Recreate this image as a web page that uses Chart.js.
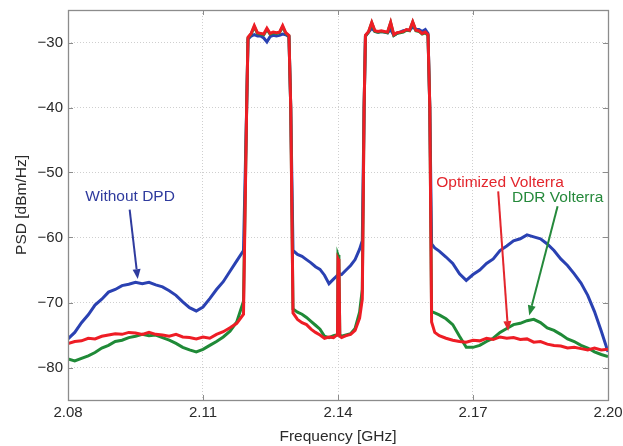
<!DOCTYPE html>
<html>
<head>
<meta charset="utf-8">
<title>PSD</title>
<script src="https://cdn.jsdelivr.net/npm/chart.js@4.4.1/dist/chart.umd.min.js"></script>
<style>
  html, body { margin: 0; padding: 0; background: #fff; }
</style>
</head>
<body>
<canvas id="psdChart" width="623" height="446"></canvas>
<script>
// frequency grid shared by all three spectra (GHz)
const freqGHz = [
  // lower adjacent channel
  2.0800, 2.0815, 2.0830, 2.0845, 2.0860, 2.0875, 2.0890, 2.0905, 2.0920, 2.0935,
  2.0950, 2.0965, 2.0980, 2.0995, 2.1010, 2.1025, 2.1040, 2.1055, 2.1070, 2.1085,
  2.1100, 2.1115, 2.1130, 2.1145, 2.1160, 2.1175, 2.1190,
  2.1197,
  // carrier 1
  2.1200, 2.1207, 2.1214, 2.1221, 2.1228, 2.1235, 2.1242, 2.1249, 2.1256, 2.1263,
  2.1270, 2.1277, 2.1284, 2.1291,
  2.1295,
  // gap between carriers, with the tone at 2.14
  2.1300, 2.1310, 2.1320, 2.1330, 2.1340, 2.1350, 2.1360, 2.1370, 2.1380, 2.1390, 2.1396,
  2.1399, 2.1400, 2.1402, 2.1404,
  2.1408, 2.1418, 2.1428, 2.1438, 2.1448, 2.1454,
  2.1458,
  // carrier 2
  2.1461, 2.1468, 2.1475, 2.1482, 2.1489, 2.1496, 2.1503, 2.1510, 2.1517, 2.1524, 2.1531,
  2.1538, 2.1545, 2.1552, 2.1559, 2.1566, 2.1573, 2.1580, 2.1587, 2.1594, 2.1600,
  2.1604,
  // upper adjacent channel
  2.1608, 2.1615, 2.1625, 2.1640, 2.1655, 2.1670, 2.1685, 2.1700, 2.1715, 2.1730,
  2.1745, 2.1760, 2.1775, 2.1790, 2.1805, 2.1820, 2.1835, 2.1850, 2.1865, 2.1880,
  2.1895, 2.1910, 2.1925, 2.1940, 2.1955, 2.1970, 2.1985, 2.2000
];

// PSD in dBm/Hz, same order as freqGHz
const withoutDpd = [
  -75.6, -74.6, -73.1, -71.9, -70.4, -69.5, -68.4, -68.0, -67.4, -67.2,
  -66.9, -67.1, -66.9, -67.3, -67.6, -68.2, -68.9, -69.9, -70.8, -71.3,
  -70.7, -69.4, -68.0, -66.8, -65.2, -63.6, -62.0,
  -40,
  -29.5, -29.0, -28.8, -29.0, -29.0, -29.3, -29.9, -29.1, -28.9, -29.0,
  -28.9, -28.7, -28.8, -29.1,
  -40,
  -62.0, -62.6, -62.9, -63.4, -63.9, -64.5, -64.9, -65.8, -67.1, -66.4, -66.0,
  -65.8, -65.7, -65.6, -65.6,
  -65.7, -65.0, -64.3, -63.4, -61.8, -60.5,
  -40,
  -29.0, -28.4, -27.8, -28.3, -28.4, -28.3, -28.4, -28.5, -28.0, -28.9, -28.6,
  -28.4, -28.2, -28.1, -28.1, -27.6, -28.0, -28.0, -28.3, -28.0, -28.6,
  -40,
  -61.0, -61.6, -62.1, -63.0, -64.0, -65.6, -66.6, -65.7, -65.0, -64.0,
  -63.3, -62.0, -61.3, -60.5, -60.2, -59.6, -59.9, -60.2, -61.0, -62.0,
  -63.3, -64.3, -65.6, -67.0, -68.9, -71.4, -74.4, -77.6
];

const ddrVolterra = [
  -78.7, -79.0, -78.6, -78.2, -77.7, -77.0, -76.6, -76.0, -75.8, -75.4,
  -75.2, -74.9, -75.1, -75.0, -75.4, -75.8, -76.3, -76.9, -77.3, -77.6,
  -77.2, -76.6, -76.0, -75.3, -74.4, -73.0, -69.8,
  -40,
  -29.3, -28.7, -27.6, -28.6, -28.7, -28.8, -28.0, -28.7, -28.5, -28.6,
  -28.5, -27.6, -28.6, -29.0,
  -40,
  -71.0, -71.5, -71.8, -72.3, -72.9, -73.5, -74.1, -75.2, -75.4, -75.1, -75.0,
  -75.0, -62.7, -63.1, -75.0,
  -75.2, -75.0, -74.8, -74.0, -71.5, -68.0,
  -40,
  -29.0, -28.4, -27.0, -28.3, -28.4, -28.3, -28.4, -28.5, -27.0, -28.9, -28.6,
  -28.5, -28.4, -28.1, -28.2, -26.9, -28.2, -28.3, -28.7, -28.5, -28.9,
  -40,
  -71.4, -71.6, -71.9, -72.5, -73.4, -75.2, -76.9, -76.9, -76.6, -76.0,
  -75.5, -74.6, -74.0, -73.4, -73.2, -72.8, -72.6, -73.1, -73.9, -74.3,
  -74.9, -75.6, -76.0, -76.6, -77.0, -77.6, -78.0, -78.3
];

const optVolterra = [
  -76.3, -76.0, -75.9, -75.5, -75.6, -75.2, -75.0, -74.8, -74.9, -74.6,
  -74.7, -74.9, -74.6, -74.9, -75.0, -75.2, -74.9, -75.3, -75.4, -75.6,
  -75.3, -75.5, -74.9, -74.5, -73.9, -73.2, -71.8,
  -40,
  -29.2, -28.6, -27.4, -28.5, -28.6, -28.7, -27.8, -28.6, -28.4, -28.5,
  -28.4, -27.4, -28.5, -28.9,
  -40,
  -71.6, -72.6, -73.1, -73.4, -74.1, -74.6, -75.0, -75.5, -75.3, -75.4, -75.1,
  -75.0, -63.3, -63.6, -75.2,
  -75.4, -75.1, -74.9, -74.3, -72.4, -69.5,
  -40,
  -28.9, -28.3, -26.9, -28.2, -28.3, -28.2, -28.3, -28.4, -26.9, -28.8, -28.5,
  -28.4, -28.3, -28.0, -28.1, -26.8, -28.1, -28.2, -28.6, -28.4, -28.8,
  -40,
  -73.0, -74.6, -75.1, -75.5, -75.8, -76.0, -76.1, -75.8, -75.9, -75.5,
  -75.7, -75.3, -75.5, -75.4, -75.7, -75.6, -76.1, -76.0, -76.4, -76.6,
  -76.7, -77.0, -76.9, -77.1, -77.3, -77.0, -77.3, -77.2
];

const xTicks = [2.08, 2.11, 2.14, 2.17, 2.20];
const yTicks = [-80, -70, -60, -50, -40, -30];

const FONT = "'Liberation Sans', Arial, Helvetica, sans-serif";
const BLUE = '#2a41b2', GREEN = '#1f8a37', RED = '#ee1d25';

// labels with arrows pointing at the curves (data coordinates)
const callouts = [
  { text: 'Without DPD', color: '#2f3b9e', at: [2.0938, -53.7], from: [2.0937, -55.7], to: [2.0955, -66.4] },
  { text: 'Optimized Volterra', color: '#e3262d', at: [2.1760, -51.6], from: [2.1756, -52.9], to: [2.1778, -74.4] },
  { text: 'DDR Volterra', color: '#25893b', at: [2.1888, -53.9], from: [2.1888, -55.2], to: [2.1825, -72.0] }
];

const toPoints = vals => freqGHz.map((f, i) => ({ x: f, y: vals[i] }));

// MATLAB-style box with inward ticks, plus the callouts
const framePlugin = {
  id: 'frame',
  beforeDatasetsDraw(chart) {
    const { ctx, chartArea: a, scales: { x, y } } = chart;
    ctx.save();
    ctx.strokeStyle = '#8c8c8c';
    ctx.lineWidth = 1;
    ctx.beginPath();
    xTicks.forEach(v => {
      const px = Math.round(x.getPixelForValue(v)) + 0.5;
      ctx.moveTo(px, a.bottom); ctx.lineTo(px, a.bottom - 5);
      ctx.moveTo(px, a.top); ctx.lineTo(px, a.top + 5);
    });
    yTicks.forEach(v => {
      const py = Math.round(y.getPixelForValue(v)) + 0.5;
      ctx.moveTo(a.left, py); ctx.lineTo(a.left + 5, py);
      ctx.moveTo(a.right, py); ctx.lineTo(a.right - 5, py);
    });
    ctx.stroke();
    ctx.restore();
  },
  afterDatasetsDraw(chart) {
    const { ctx, chartArea: a, scales: { x, y } } = chart;
    ctx.save();
    ctx.strokeStyle = '#8c8c8c';
    ctx.lineWidth = 1.3;
    ctx.strokeRect(Math.round(a.left) + 0.5, Math.round(a.top) + 0.5,
      Math.round(a.right - a.left), Math.round(a.bottom - a.top));

    ctx.font = '15.5px ' + FONT;
    ctx.textAlign = 'center';
    ctx.textBaseline = 'middle';
    callouts.forEach(c => {
      ctx.fillStyle = c.color;
      ctx.fillText(c.text, x.getPixelForValue(c.at[0]), y.getPixelForValue(c.at[1]));
      const x0 = x.getPixelForValue(c.from[0]), y0 = y.getPixelForValue(c.from[1]);
      const x1 = x.getPixelForValue(c.to[0]), y1 = y.getPixelForValue(c.to[1]);
      const ang = Math.atan2(y1 - y0, x1 - x0);
      const head = 10, half = 4;
      const bx = x1 - head * Math.cos(ang), by = y1 - head * Math.sin(ang);
      ctx.strokeStyle = c.color;
      ctx.lineWidth = 2;
      ctx.beginPath();
      ctx.moveTo(x0, y0);
      ctx.lineTo(bx, by);
      ctx.stroke();
      ctx.beginPath();
      ctx.moveTo(x1, y1);
      ctx.lineTo(bx + half * Math.sin(ang), by - half * Math.cos(ang));
      ctx.lineTo(bx - half * Math.sin(ang), by + half * Math.cos(ang));
      ctx.closePath();
      ctx.fill();
    });
    ctx.restore();
  }
};

const lineStyle = { borderWidth: 3, pointRadius: 0, tension: 0, fill: false };

new Chart(document.getElementById('psdChart'), {
  type: 'line',
  data: {
    datasets: [
      { label: 'Optimized Volterra', data: toPoints(optVolterra), borderColor: RED, ...lineStyle },
      { label: 'DDR Volterra', data: toPoints(ddrVolterra), borderColor: GREEN, ...lineStyle },
      { label: 'Without DPD', data: toPoints(withoutDpd), borderColor: BLUE, ...lineStyle }
    ]
  },
  options: {
    responsive: false,
    animation: false,
    parsing: false,
    layout: { padding: { left: 0, right: 15, top: 10, bottom: 0 } },
    plugins: { legend: { display: false }, tooltip: { enabled: false } },
    scales: {
      x: {
        type: 'linear',
        min: 2.08,
        max: 2.20,
        afterBuildTicks: s => { s.ticks = xTicks.map(v => ({ value: v })); },
        afterFit: s => { s.height = 46; s.paddingLeft = 0; s.paddingRight = 0; },
        grid: { color: '#cfcfcf', lineWidth: 1, drawTicks: false },
        border: { display: false, dash: [1, 2] },
        ticks: {
          padding: 4,
          maxRotation: 0,
          color: '#2a2a2a',
          font: { family: FONT, size: 15 },
          callback: v => v.toFixed(2)
        },
        title: {
          display: true,
          text: 'Frequency [GHz]',
          color: '#2a2a2a',
          font: { family: FONT, size: 15.5 },
          padding: { top: 0, bottom: 0 }
        }
      },
      y: {
        type: 'linear',
        min: -85,
        max: -25,
        afterBuildTicks: s => { s.ticks = yTicks.map(v => ({ value: v })); },
        afterFit: s => { s.width = 68; s.paddingTop = 0; s.paddingBottom = 0; },
        grid: { color: '#cfcfcf', lineWidth: 1, drawTicks: false },
        border: { display: false, dash: [1, 2] },
        ticks: {
          padding: 5,
          color: '#2a2a2a',
          font: { family: FONT, size: 15 },
          callback: v => String(v).replace('-', '\u2212')
        },
        title: {
          display: true,
          text: 'PSD [dBm/Hz]',
          color: '#2a2a2a',
          font: { family: FONT, size: 15.5 },
          padding: { top: 12, bottom: 0 }
        }
      }
    }
  },
  plugins: [framePlugin]
});
</script>
</body>
</html>
